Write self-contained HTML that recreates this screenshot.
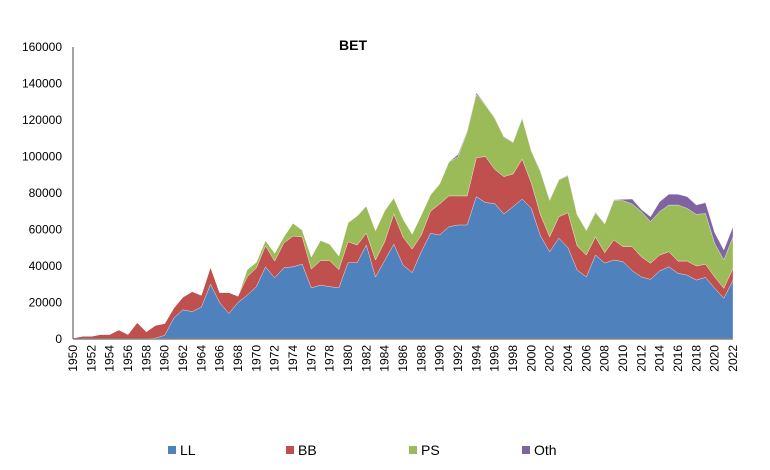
<!DOCTYPE html>
<html><head><meta charset="utf-8"><style>
body{margin:0;background:#fff;width:770px;height:465px;overflow:hidden;font-family:"Liberation Sans",sans-serif}
</style></head><body>
<svg id="chart" width="770" height="465" xmlns="http://www.w3.org/2000/svg" font-family="Liberation Sans, sans-serif">
<text x="353" y="50" font-size="14" font-weight="bold" text-anchor="middle">BET</text>
<g id="areas"></g><g id="axes"></g><g id="legend"></g>
</svg>
<script>
const startYear = 1950;
const LL = [0,0,0,0,0,0,0,0,0,0.5,2,11.5,16,15,17.5,30,20,14,20,24,28.7,39.5,33.5,39,39.6,41,28,29.5,28.7,28,41.8,41.8,51.5,34,43,52,40.5,36.4,47.9,57.9,57,61.5,62.5,62.5,78,74.7,74.3,68.5,72.5,76.7,71.6,56.4,47.8,55.3,50,37.8,34,46,41.6,43.3,42.4,37.5,34,32.7,37.3,39.6,36,35,32.3,33.8,27.8,22.3,32.3];
const BB = [0.5,1.5,1.5,2.5,2.5,5,2.5,9,4,7,6.5,5.5,7,11,6.5,9.5,5.5,11.5,3.5,10,10.3,11.5,9.2,13.6,16.8,15,10.3,13.5,14.3,10,11.5,9.7,6.5,9.3,10.3,16.5,15.4,12.9,9.1,12.1,17,16.9,15.9,15.9,21.3,25.3,18.7,20.5,17.9,21.9,13.9,11.6,8.2,11.7,19.2,13.2,12,9.9,5.7,11,8.2,13.1,11,8.8,8.7,8.2,6.7,7.7,7.7,7.2,6.2,5.5,6.4];
const PS = [0,0,0,0,0,0,0,0,0,0,0,0,0,0,0,0,0,0,0,4,3,3,4.3,3.4,7.1,3.7,6.7,11,9,7.5,10.4,15.9,14.9,16.1,17,8.8,9.9,8.2,11,9,11,18.6,21.3,35.2,34.7,28,28,21.7,17.2,22.4,17.5,23.7,20,20,20.3,17,13.4,13.3,15.7,21.7,25.2,23.4,24.8,22.8,23.8,25.6,30.7,28.9,28.3,27.8,18.4,15.5,17.3];
const OTH = [0,0,0,0,0,0,0,0,0,0,0,0,0,0,0,0,0,0,0,0,0,0,0,0,0,0,0,0,0,0,0,0,0,0,0,0,0,0,0,0,0,0,1.3,0.5,1,0.3,0.3,0.3,0.3,0.3,0.3,0.3,0.3,0.3,0.3,0.3,0.3,0.3,0.3,0.3,0.7,2.7,1.2,2.7,5.4,5.9,5.9,6.4,5.1,5.9,5.9,5.5,5.5];
const seriesNames = ["LL","BB","PS","Oth"];
const yTicks = [0,20000,40000,60000,80000,100000,120000,140000,160000];
const colors = ["#4F81BD","#C0504D","#9BBB59","#8064A2"];
const X0=73,X1=733,Y0=339,Y1=47,YMAX=160000;
const n = LL.length;
const xs = i => X0 + i*(X1-X0)/(n-1);
const ys = v => Y0 - v/YMAX*(Y0-Y1);
const NS="http://www.w3.org/2000/svg";
const areas=document.getElementById('areas'), axes=document.getElementById('axes'), legend=document.getElementById('legend');
const series=[LL,BB,PS,OTH];
let base=new Array(n).fill(0);
series.forEach((s,k)=>{
  const top=base.map((b,i)=>b+s[i]*1000);
  let d="M"+xs(0)+","+ys(top[0]);
  for(let i=1;i<n;i++) d+=" L"+xs(i)+","+ys(top[i]);
  for(let i=n-1;i>=0;i--) d+=" L"+xs(i)+","+ys(base[i]);
  d+=" Z";
  const p=document.createElementNS(NS,'path');
  p.setAttribute('d',d);p.setAttribute('fill',colors[k]);
  p.setAttribute('stroke','#fff');p.setAttribute('stroke-width','0.3');
  
  
  areas.appendChild(p);
  base=top;
});
function line(x1,y1,x2,y2,name){const l=document.createElementNS(NS,'line');l.setAttribute('x1',x1);l.setAttribute('y1',y1);l.setAttribute('x2',x2);l.setAttribute('y2',y2);l.setAttribute('stroke','#868686');l.setAttribute('stroke-width','1.5');


axes.appendChild(l);}
line(X0,Y1,X0,Y0,'y-axis');line(X0,Y0,X1,Y0,'x-axis');
yTicks.forEach(v=>{const t=document.createElementNS(NS,'text');t.setAttribute('x',62);t.setAttribute('y',ys(v)+4);t.setAttribute('text-anchor','end');t.setAttribute('font-size','12');t.textContent=v;


axes.appendChild(t);});
for(let i=0;i<n;i+=2){const t=document.createElementNS(NS,'text');const x=xs(i)+4,y=345;t.setAttribute('x',x);t.setAttribute('y',y);t.setAttribute('transform','rotate(-90 '+x+' '+y+')');t.setAttribute('text-anchor','end');t.setAttribute('font-size','12');t.textContent=startYear+i;


axes.appendChild(t);}
const lx=[168,286,409,522];
seriesNames.forEach((nm,k)=>{const g=document.createElementNS(NS,'g');


const r=document.createElementNS(NS,'rect');r.setAttribute('x',lx[k]);r.setAttribute('y',446);r.setAttribute('width',8);r.setAttribute('height',8);r.setAttribute('fill',colors[k]);g.appendChild(r);
const t=document.createElementNS(NS,'text');t.setAttribute('x',lx[k]+12);t.setAttribute('y',455);t.setAttribute('font-size','14');t.textContent=nm;g.appendChild(t);legend.appendChild(g);});
</script>
</body></html>
